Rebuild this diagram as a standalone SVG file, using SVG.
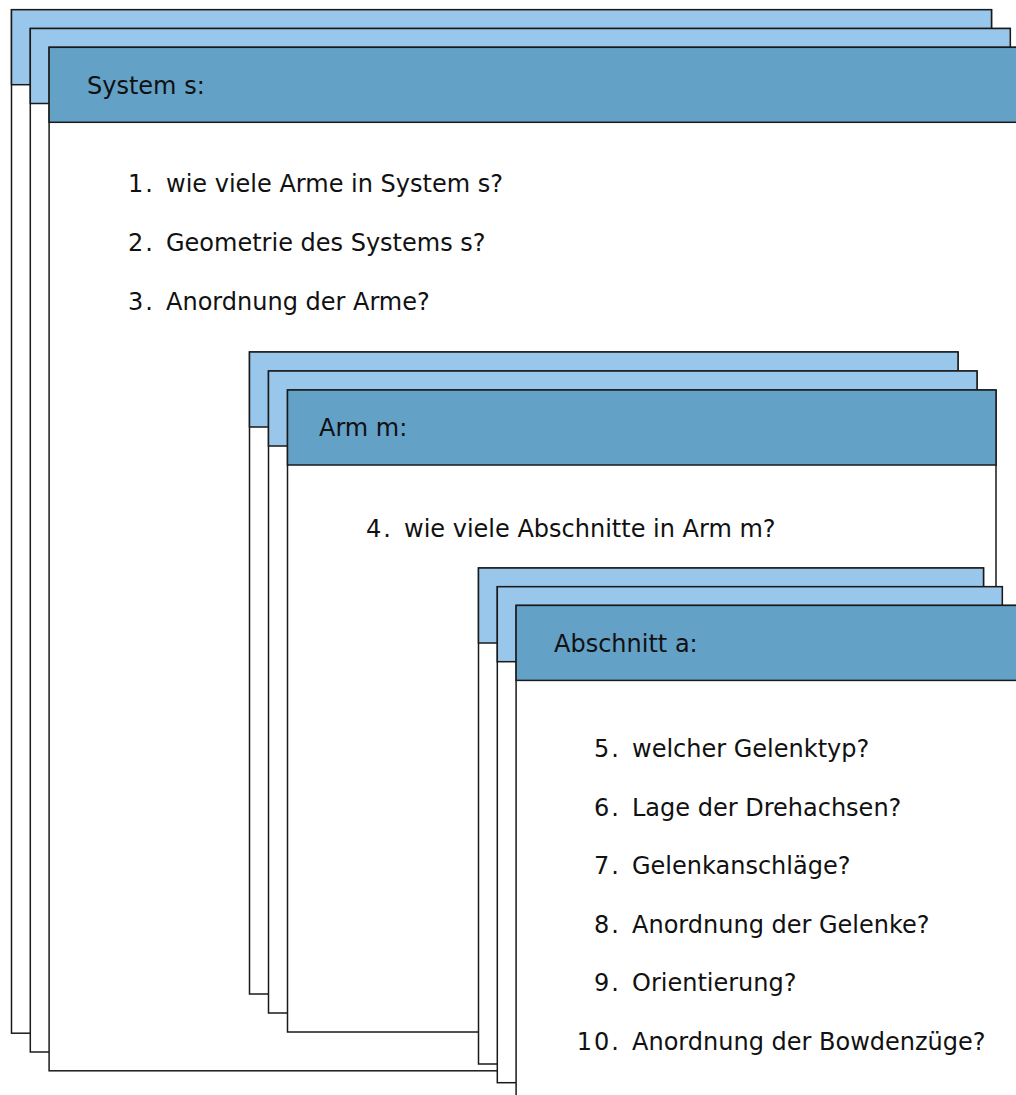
<svg xmlns="http://www.w3.org/2000/svg" width="1016" height="1095" viewBox="0 0 1016 1095">
  <style>
    .body { fill: #ffffff; stroke: #1a1a1a; stroke-width: 1.5; }
    .hdr-back { fill: #99c7eb; stroke: #1a1a1a; stroke-width: 1.5; }
    .hdr-front { fill: #63a1c7; stroke: #1a1a1a; stroke-width: 1.5; }
    text { font-family: "DejaVu Sans", "Liberation Sans", sans-serif; font-size: 24px; fill: #111111; }
    .num { text-anchor: end; letter-spacing: 2px; }
  </style>

  <!-- System stack -->
  <g id="system-s">
    <g id="system-card-1">
      <rect class="body" x="11.5" y="9.7" width="980" height="1023.5"/>
      <rect class="hdr-back" x="11.5" y="9.7" width="980" height="75"/>
    </g>
    <g id="system-card-2">
      <rect class="body" x="30.3" y="28.5" width="980" height="1023.5"/>
      <rect class="hdr-back" x="30.3" y="28.5" width="980" height="75"/>
    </g>
    <g id="system-card-3">
      <rect class="body" x="49.1" y="47.3" width="980" height="1023.5"/>
      <rect class="hdr-front" x="49.1" y="47.3" width="980" height="75"/>
      <text x="87" y="93.5">System s:</text>
    </g>
    <g id="system-questions">
      <text class="num" x="155" y="192">1.</text>
      <text x="166" y="192">wie viele Arme in System s?</text>
      <text class="num" x="155" y="250.8">2.</text>
      <text x="166" y="250.8">Geometrie des Systems s?</text>
      <text class="num" x="155" y="309.6">3.</text>
      <text x="166" y="309.6">Anordnung der Arme?</text>
    </g>
  </g>

  <!-- Arm stack -->
  <g id="arm-m">
    <g id="arm-card-1">
      <rect class="body" x="249.5" y="352" width="708.5" height="642"/>
      <rect class="hdr-back" x="249.5" y="352" width="708.5" height="75"/>
    </g>
    <g id="arm-card-2">
      <rect class="body" x="268.5" y="371" width="708.5" height="642"/>
      <rect class="hdr-back" x="268.5" y="371" width="708.5" height="75"/>
    </g>
    <g id="arm-card-3">
      <rect class="body" x="287.5" y="390" width="708.5" height="642"/>
      <rect class="hdr-front" x="287.5" y="390" width="708.5" height="75"/>
      <text x="319" y="436">Arm m:</text>
    </g>
    <g id="arm-questions">
      <text class="num" x="393" y="537">4.</text>
      <text x="404" y="537">wie viele Abschnitte in Arm m?</text>
    </g>
  </g>

  <!-- Abschnitt stack -->
  <g id="abschnitt-a">
    <g id="abschnitt-card-1">
      <rect class="body" x="478.5" y="568" width="505" height="496"/>
      <rect class="hdr-back" x="478.5" y="568" width="505" height="75"/>
    </g>
    <g id="abschnitt-card-2">
      <rect class="body" x="497.3" y="586.7" width="505" height="496"/>
      <rect class="hdr-back" x="497.3" y="586.7" width="505" height="75"/>
    </g>
    <g id="abschnitt-card-3">
      <rect class="body" x="516.1" y="605.4" width="505" height="496"/>
      <rect class="hdr-front" x="516.1" y="605.4" width="505" height="75"/>
      <text x="554" y="651.5">Abschnitt a:</text>
    </g>
    <g id="abschnitt-questions">
      <text class="num" x="621" y="757">5.</text>
      <text x="632" y="757">welcher Gelenktyp?</text>
      <text class="num" x="621" y="815.6">6.</text>
      <text x="632" y="815.6">Lage der Drehachsen?</text>
      <text class="num" x="621" y="874.2">7.</text>
      <text x="632" y="874.2">Gelenkanschläge?</text>
      <text class="num" x="621" y="932.8">8.</text>
      <text x="632" y="932.8">Anordnung der Gelenke?</text>
      <text class="num" x="621" y="991.4">9.</text>
      <text x="632" y="991.4">Orientierung?</text>
      <text class="num" x="621" y="1050">10.</text>
      <text x="632" y="1050">Anordnung der Bowdenzüge?</text>
    </g>
  </g>

  <!-- no connectors in this figure -->
  <g id="connectors"/>
</svg>
